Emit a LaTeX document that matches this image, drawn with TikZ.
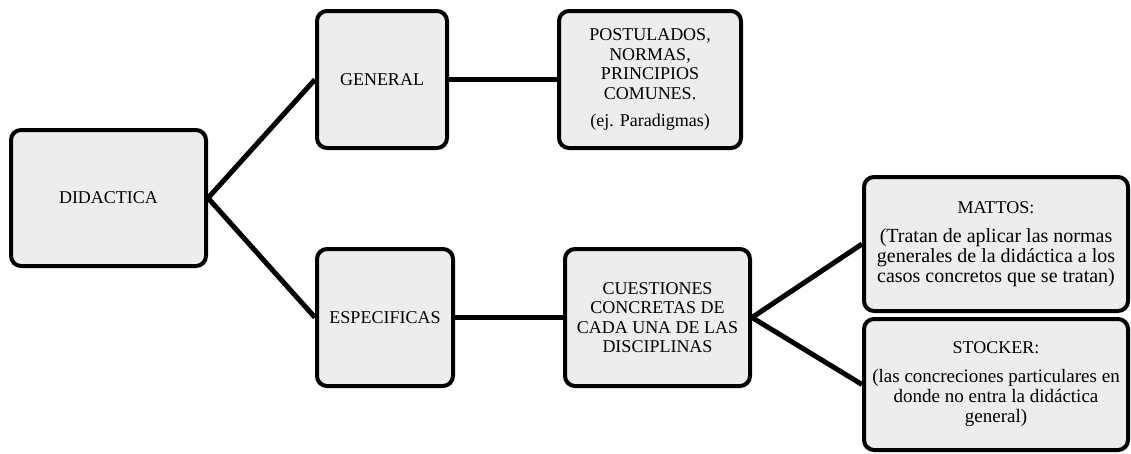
\documentclass[tikz,border=0pt]{standalone}
\usepackage{fontspec}
\setmainfont{Liberation Serif}
\usetikzlibrary{positioning}

\tikzset{
	caja/.style = {draw, line width=4pt, rounded corners=10pt, fill=black!7,
		align=center, inner sep=0pt, font=\fontsize{18}{19.5}\selectfont},
	autor/.style = {caja, minimum width=264pt, font=\fontsize{20}{20}\selectfont},
	enlace/.style = {line width=5pt}
}

\begin{document}
\begin{tikzpicture}[x=1pt,y=-1pt]
	\useasboundingbox (0,0) rectangle (1131,453);

	\node[caja, minimum width=195pt, minimum height=136pt] (didactica) at (108.5,198) {DIDACTICA};
	\node[caja, minimum width=130pt, minimum height=137pt] (general) at (382,79.5) {GENERAL};
	\node[caja, minimum width=182pt, minimum height=137pt] (postulados) at (650,79.5)
		{POSTULADOS,\\NORMAS,\\PRINCIPIOS\\COMUNES.\\[8pt](ej. Paradigmas)};
	\node[caja, minimum width=136pt, minimum height=137pt] (especificas) at (385,317.5) {ESPECIFICAS};
	\node[caja, minimum width=185pt, minimum height=137pt] (cuestiones) at (657.5,317.5)
		{CUESTIONES\\CONCRETAS DE\\CADA UNA DE LAS\\DISCIPLINAS};
	\node[autor, minimum height=134pt] (mattos) at (996,244)
		{{\fontsize{18}{19.5}\selectfont MATTOS:}\\[9pt](Tratan de aplicar las normas\\generales de la didáctica a los\\casos concretos que se tratan)};
	\node[autor, minimum height=131pt, font=\fontsize{19}{20}\selectfont] (stocker) at (996,384.5)
		{{\fontsize{18}{19.5}\selectfont STOCKER:}\\[9pt](las concreciones particulares en\\donde no entra la didáctica\\general)};

	\draw[enlace] (didactica.east) -- (general.west);
	\draw[enlace] (didactica.east) -- (especificas.west);
	\draw[enlace] (general.east) -- (postulados.west);
	\draw[enlace] (especificas.east) -- (cuestiones.west);
	\draw[enlace] (cuestiones.east) -- (mattos.west);
	\draw[enlace] (cuestiones.east) -- (stocker.west);

\end{tikzpicture}
\end{document}
